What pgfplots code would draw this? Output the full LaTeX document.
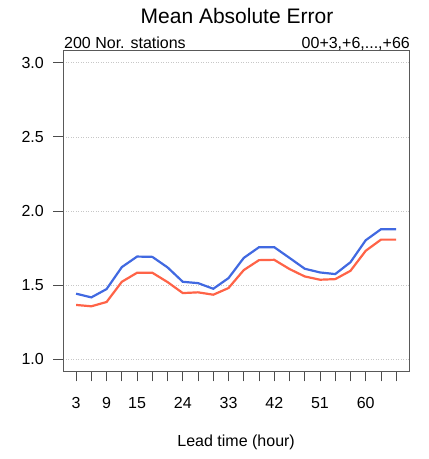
\documentclass[border=0pt]{standalone}
\usepackage{pgfplots}
\pgfplotsset{compat=1.18}
\usepackage{fontspec}
\setmainfont{Liberation Sans}
\definecolor{cblue}{RGB}{65,105,225}
\definecolor{cred}{RGB}{255,99,71}
\pgfplotstableread{
lead mae1 mae2
3  1.443 1.367
6  1.418 1.358
9  1.474 1.387
12 1.622 1.523
15 1.693 1.584
18 1.691 1.584
21 1.620 1.521
24 1.523 1.447
27 1.514 1.452
30 1.476 1.436
33 1.548 1.481
36 1.684 1.602
39 1.756 1.669
42 1.756 1.671
45 1.684 1.609
48 1.611 1.559
51 1.586 1.537
54 1.575 1.541
57 1.655 1.597
60 1.803 1.732
63 1.877 1.807
66 1.877 1.807
}\maetable
\begin{document}
\begin{tikzpicture}[x=1bp,y=1bp]
\begin{axis}[
  at={(0,0)}, anchor=south west,
  scale only axis, width=345.7bp, height=320.6bp,
  xmin=0.48, xmax=68.52, ymin=0.92, ymax=3.08,
  xtick={3,6,...,66},
  xticklabels={3,,9,,15,,,24,,,33,,,42,,,51,,,60,,},
  ytick={1.0,1.5,2.0,2.5,3.0},
  yticklabels={1.0,1.5,2.0,2.5,3.0},
  tick pos=left,
  tick align=outside,
  major tick length=10bp,
  tick style={draw=black!70, line width=0.9bp},
  axis line style={draw=black!65, line width=0.9bp},
  ymajorgrids,
  major grid style={draw=black!22, line width=0.5bp, dash pattern=on 1bp off 1.5bp},
  tick label style={font=\fontsize{16bp}{19bp}\selectfont},
  xticklabel style={yshift=-13bp},
  yticklabel style={xshift=-6bp},
  clip=false,
]
\addplot[cblue, line width=2.2bp] table[x=lead, y=mae1] {\maetable};
\addplot[cred, line width=2.2bp] table[x=lead, y=mae2] {\maetable};
\end{axis}
\node[anchor=base, font=\fontsize{21bp}{25bp}\selectfont] at (173.7,348) {Mean Absolute Error};
\node[anchor=base west, inner sep=0, font=\fontsize{16bp}{19bp}\selectfont] at (0.7,322.6) {200 Nor. stations};
\node[anchor=base east, inner sep=0, font=\fontsize{16bp}{19bp}\selectfont] at (346.7,322.6) {00+3,+6,...,+66};
\node[anchor=base, inner sep=0, font=\fontsize{16bp}{19bp}\selectfont] at (172.85,-75) {Lead time (hour)};
\path (-63.3,-87.7) rectangle (364.7,371.3);
\end{tikzpicture}
\end{document}
